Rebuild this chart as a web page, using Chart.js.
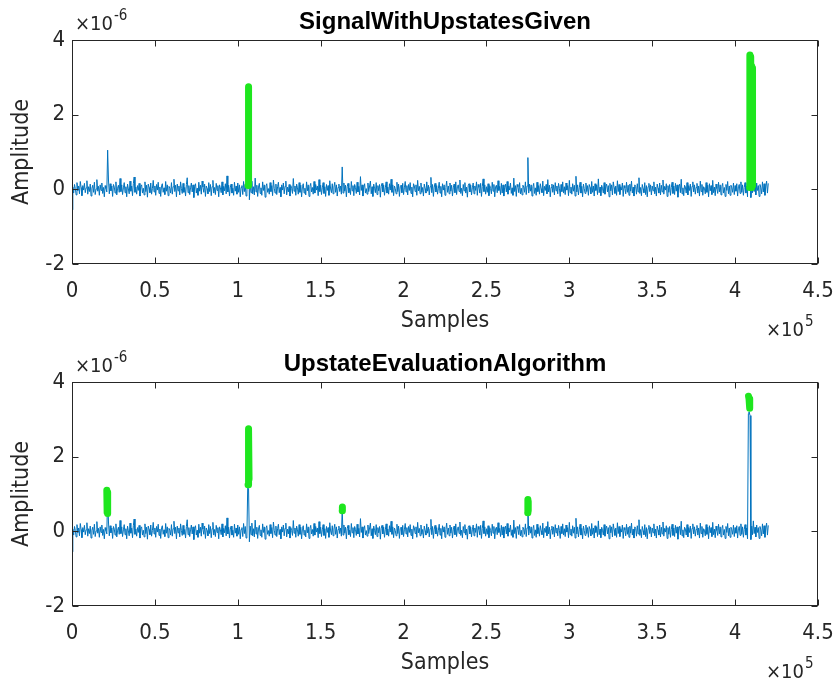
<!DOCTYPE html>
<html>
<head>
<meta charset="utf-8">
<script src="https://cdn.jsdelivr.net/npm/chart.js@4/dist/chart.umd.min.js"></script>
<style>
  html, body { margin: 0; padding: 0; background: #ffffff; }
  #wrap { position: relative; width: 840px; height: 683px; }
  .panel { position: absolute; left: 0; width: 840px; }
</style>
</head>
<body>
<div id="wrap">
  <div class="panel" style="top:0;height:342px"><canvas id="top" width="840" height="342"></canvas></div>
  <div class="panel" style="top:342px;height:341px"><canvas id="bottom" width="840" height="341"></canvas></div>
</div>
<script>
// ---- data (amplitudes in units of 1e-6, samples as sample index) ----
const SAMPLE_STEP = 500;

// recorded signal, one value every SAMPLE_STEP samples
const signal = [
  -0.55,0.06,-0.1,0.13,0.02,-0.15,0.18,-0.04,0.09,-0.12,0.21,0.05,-0.17,0.1,-0.02,0.16,-0.09,0.04,0.23,-0.13,
  0.07,-0.06,0.14,-0.18,0.03,0.11,-0.08,0.19,-0.14,0.01,0.26,-0.05,0.08,-0.16,0.12,-0.03,0.17,-0.11,0.05,-0.2,
  0.1,0.02,-0.07,1.05,0.25,-0.12,0.15,-0.04,0.09,-0.19,0.13,0.06,-0.1,0.2,-0.15,0.03,0.11,-0.08,0.29,-0.06,
  0.12,-0.14,0.04,0.18,-0.09,0.07,-0.2,0.14,0.01,-0.12,0.22,-0.05,0.09,-0.17,0.15,0.33,-0.08,0.06,-0.13,0.1,
  -0.03,0.16,-0.18,0.08,0.12,-0.1,0.03,-0.15,0.2,-0.06,0.11,-0.21,0.14,0.05,-0.09,0.17,-0.13,0.02,0.24,-0.07,
  0.09,-0.16,0.13,-0.02,0.19,-0.11,0.06,-0.19,0.1,0.15,-0.08,0.04,-0.14,0.21,-0.05,0.12,-0.17,0.08,0.03,-0.1,
  0.18,-0.13,0.07,0.27,-0.06,0.11,-0.2,0.14,-0.04,0.09,-0.15,0.2,0.02,-0.11,0.16,-0.08,0.05,-0.18,0.13,0.31,
  -0.09,0.1,-0.14,0.04,0.17,-0.07,0.12,-0.22,0.08,0.15,-0.1,0.03,-0.16,0.19,-0.05,0.11,-0.13,0.22,0.06,-0.08,
  0.14,-0.19,0.09,0.02,-0.12,0.18,-0.06,0.13,-0.17,0.07,0.24,-0.1,0.05,-0.14,0.16,-0.03,0.1,-0.2,0.12,0.04,
  -0.09,0.2,-0.15,0.08,-0.04,0.15,-0.12,0.36,-0.07,0.11,-0.18,0.06,0.14,-0.1,0.03,-0.16,0.19,-0.05,0.09,-0.13,
  0.17,-0.08,0.12,-0.2,0.05,0.1,-0.14,0.21,-0.06,0.13,-0.18,-0.1,1.2,1.15,-0.28,0.14,-0.09,0.22,-0.12,0.07,
  -0.15,0.3,-0.07,0.11,-0.19,0.06,0.16,-0.11,0.04,-0.16,0.2,-0.03,0.12,-0.21,0.09,0.15,-0.08,0.02,-0.13,0.18,
  -0.06,0.1,-0.17,0.25,0.03,-0.1,0.14,-0.14,0.07,0.19,-0.09,0.05,-0.2,0.12,-0.02,0.17,-0.12,0.08,0.22,-0.15,
  0.06,-0.07,0.13,-0.18,0.1,0.02,-0.11,0.29,-0.05,0.09,-0.16,0.14,0.04,-0.13,0.18,-0.08,0.11,-0.2,0.07,0.15,
  -0.1,0.03,-0.15,0.2,-0.04,0.12,-0.19,0.08,0.16,-0.07,0.05,-0.13,0.21,-0.1,0.13,-0.02,0.09,-0.17,0.26,-0.06,
  0.11,-0.14,0.04,0.18,-0.11,0.07,-0.19,0.13,-0.03,0.1,-0.16,0.23,0.01,-0.09,0.15,-0.12,0.06,0.19,-0.08,0.12,
  -0.18,0.05,0.14,-0.06,0.09,-0.13,0.6,-0.1,0.17,-0.05,0.11,-0.2,0.07,0.16,-0.09,0.03,-0.14,0.21,-0.04,0.1,
  -0.17,0.13,0.05,-0.11,0.19,-0.07,0.08,-0.15,0.34,-0.03,0.12,-0.18,0.06,0.15,-0.1,0.02,-0.13,0.17,-0.06,0.09,
  0.22,-0.12,0.07,-0.19,0.14,0.03,-0.09,0.18,-0.14,0.1,-0.04,0.13,-0.21,0.08,0.16,-0.07,0.11,-0.16,0.04,0.2,
  -0.1,0.06,-0.13,0.15,-0.02,0.27,-0.08,0.12,-0.17,0.09,0.02,-0.12,0.19,-0.06,0.14,-0.19,0.07,0.11,-0.09,0.16,
  -0.14,0.04,0.21,-0.07,0.1,-0.15,0.13,-0.03,0.18,-0.11,0.06,-0.2,0.15,0.09,-0.06,0.12,-0.16,0.24,-0.04,0.08,
  -0.12,0.17,-0.08,0.05,-0.18,0.14,0.02,-0.1,0.2,-0.05,0.11,-0.15,0.07,0.32,-0.09,0.13,-0.19,0.06,0.16,-0.07,
  0.1,-0.13,0.03,0.19,-0.1,0.08,-0.2,0.15,-0.02,0.12,-0.16,0.05,0.22,-0.08,0.09,-0.12,0.17,-0.05,0.11,-0.18,
  0.04,0.14,-0.09,0.2,-0.14,0.07,0.12,-0.06,0.25,-0.11,0.03,-0.17,0.13,-0.04,0.18,-0.1,0.06,-0.21,0.1,0.15,
  -0.07,0.11,-0.15,0.04,0.17,-0.12,0.09,-0.03,0.2,-0.16,0.13,0.05,-0.1,0.16,-0.19,0.08,0.28,-0.06,0.12,-0.13,
  0.07,-0.08,0.15,-0.17,0.1,0.02,-0.12,0.19,-0.05,0.13,-0.2,0.06,0.11,-0.09,0.23,-0.03,0.08,-0.14,0.16,-0.1,
  0.12,-0.18,0.05,0.14,-0.07,0.21,-0.13,0.09,-0.02,0.17,-0.11,0.04,-0.16,0.3,-0.06,0.1,-0.19,0.13,0.07,-0.09,
  0.18,-0.12,0.03,-0.15,0.11,0.06,-0.08,0.2,-0.14,0.09,0.85,-0.1,0.14,-0.05,0.12,-0.18,0.07,0.16,-0.11,0.04,
  -0.16,0.19,-0.06,0.1,-0.13,0.15,0.02,-0.09,0.22,-0.17,0.08,-0.03,0.13,-0.12,0.26,-0.07,0.11,-0.2,0.05,0.14,
  -0.08,0.12,-0.15,0.18,-0.04,0.09,-0.12,0.16,0.03,-0.19,0.13,-0.06,0.2,-0.1,0.07,-0.14,0.17,-0.02,0.1,-0.17,
  0.24,-0.09,0.06,-0.13,0.15,-0.05,0.11,-0.18,0.35,-0.07,0.12,-0.15,0.04,0.19,-0.1,0.08,-0.2,0.14,0.02,-0.11,
  0.17,-0.06,0.1,-0.16,0.13,0.05,-0.12,0.21,-0.08,0.09,-0.18,0.15,-0.03,0.12,-0.14,0.28,-0.09,0.06,-0.17,0.11,
  0.03,-0.1,0.18,-0.13,0.08,0.14,-0.07,0.1,-0.2,0.16,-0.04,0.12,-0.15,0.2,0.05,-0.11,0.09,-0.16,0.23,-0.06,
  0.13,-0.14,0.07,-0.02,0.17,-0.19,0.1,0.04,-0.12,0.19,-0.08,0.11,-0.16,0.14,-0.05,0.22,-0.1,0.06,-0.18,0.12,
  0.08,-0.13,0.15,-0.07,0.31,-0.11,0.05,-0.17,0.13,0.02,-0.09,0.18,-0.14,0.1,-0.2,0.07,0.16,-0.06,0.12,-0.15,
  0.09,-0.04,0.2,-0.12,0.06,-0.18,0.14,0.03,-0.1,0.17,-0.15,0.11,-0.07,0.25,-0.13,0.08,-0.02,0.15,-0.19,0.1,
  -0.08,0.13,-0.16,0.05,0.19,-0.11,0.09,-0.14,0.16,-0.05,0.12,-0.21,0.07,0.14,-0.09,0.27,-0.12,0.04,-0.17,0.11,
  0.06,-0.1,0.18,-0.15,0.1,-0.03,0.14,-0.19,0.08,0.2,-0.07,0.12,-0.13,0.05,0.16,-0.1,0.09,-0.18,0.22,-0.06,
  0.13,-0.16,0.07,0.03,-0.12,0.18,-0.08,0.11,-0.2,0.15,-0.04,0.1,-0.14,0.24,-0.09,0.06,-0.17,0.14,0.02,-0.11,
  0.19,-0.07,0.12,-0.15,0.08,0.16,-0.1,0.05,-0.19,0.13,-0.03,0.21,-0.12,0.09,-0.16,0.11,0.04,-0.08,0.17,-0.14,
  0.1,-0.05,0.15,-0.18,0.07,0.13,-0.11,0.2,-0.08,0.12,-0.16,0.05,0.18,-0.1,0.09,-0.2,3.15,3.2,3.1,-0.22,
  0.14,-0.09,0.28,-0.06,0.11,-0.15,0.17,-0.03,0.1,-0.19,0.13,0.04,-0.12,0.2,-0.07,0.15,-0.16,0.09,0.22,-0.1,
  0.16
];

// upstates marked by hand (top panel)
const givenUpA_x = [106200, 106300, 106400, 106500, 106600, 106700];
const givenUpA_y = [0.1, 2.7, 0.2, 2.75, 0.15, 2.4];
const givenUpB_x = [408700, 408900, 409100, 409400, 409700, 410000, 410300, 410500];
const givenUpB_y = [0.05, 3.6, 0.1, 3.55, 0.05, 3.3, 0.1, 3.25];

// upstates found by the evaluation algorithm (bottom panel)
const foundUpA_x = [21000, 21200, 21400, 21600];
const foundUpA_y = [1.1, 0.5, 1.05, 0.48];
const foundUpB_x = [106200, 106350, 106500, 106650, 106800];
const foundUpB_y = [1.25, 2.75, 1.3, 2.7, 1.4];
const foundUpC_x = [163000, 163100];
const foundUpC_y = [0.55, 0.65];
const foundUpD_x = [274900, 275000, 275100, 275200];
const foundUpD_y = [0.5, 0.85, 0.55, 0.8];
const foundUpE_x = [408100, 408400, 408700, 408900];
const foundUpE_y = [3.62, 3.55, 3.35, 3.3];

// axis ticks
const xTickValues = [0, 50000, 100000, 150000, 200000, 250000, 300000, 350000, 400000, 450000];
const xTickLabels = ['0', '0.5', '1', '1.5', '2', '2.5', '3', '3.5', '4', '4.5'];
const yTickValues = [-2, 0, 2, 4];
const yTickLabels = ['-2', '0', '2', '4'];

// ---- styling ----
const AXIS_COLOR = '#262626';
const SIGNAL_COLOR = '#0072BD';
const UPSTATE_COLOR = '#1ee61e';
const NARROW = '"Liberation Sans Narrow", "Arial Narrow", "DejaVu Sans Condensed", "Liberation Sans", Arial, sans-serif';
const WIDE = '"Liberation Sans", Arial, Helvetica, sans-serif';

function toPoints(xs, ys) {
  return xs.map((x, i) => ({ x: x, y: ys[i] }));
}
const signalPoints = signal.map((v, i) => ({ x: i * SAMPLE_STEP, y: v }));

function signalDataset() {
  return {
    data: signalPoints, borderColor: SIGNAL_COLOR, borderWidth: 1,
    pointRadius: 0, order: 2, tension: 0
  };
}
function upstateDataset(xs, ys) {
  return {
    data: toPoints(xs, ys), borderColor: UPSTATE_COLOR, borderWidth: 7,
    borderCapStyle: 'round', borderJoinStyle: 'round',
    pointRadius: 0, order: 1, tension: 0
  };
}

// frame, inward ticks and MATLAB-style annotations
const decorPlugin = {
  id: 'decor',
  afterDraw(chart, args, opts) {
    const { ctx, chartArea: a, scales } = chart;
    const sx = scales.x, sy = scales.y;
    ctx.save();
    ctx.strokeStyle = AXIS_COLOR;
    ctx.lineWidth = 1;
    const L = Math.round(a.left) + 0.5, R = Math.round(a.right) - 0.5;
    const T = Math.round(a.top) + 0.5, B = Math.round(a.bottom) - 0.5;
    ctx.strokeRect(L, T, R - L, B - T);
    const TL = 6;
    ctx.beginPath();
    xTickValues.forEach(v => {
      const px = Math.round(sx.getPixelForValue(v)) + 0.5;
      ctx.moveTo(px, B); ctx.lineTo(px, B - TL);
      ctx.moveTo(px, T); ctx.lineTo(px, T + TL);
    });
    yTickValues.forEach(v => {
      const py = Math.round(sy.getPixelForValue(v)) + 0.5;
      ctx.moveTo(L, py); ctx.lineTo(L + TL, py);
      ctx.moveTo(R, py); ctx.lineTo(R - TL, py);
    });
    ctx.stroke();

    const cx = (a.left + a.right) / 2;
    ctx.fillStyle = '#000000';
    ctx.textBaseline = 'middle';
    // title
    ctx.textAlign = 'center';
    ctx.font = 'bold 24px ' + WIDE;
    ctx.fillText(opts.title, cx, 22);
    // axis labels
    ctx.fillStyle = AXIS_COLOR;
    ctx.font = '23px ' + NARROW;
    ctx.fillText('Samples', cx, 321);
    ctx.save();
    ctx.translate(22, (a.top + a.bottom) / 2);
    ctx.rotate(-Math.PI / 2);
    ctx.fillText('Amplitude', 0, 0);
    ctx.restore();
    // exponent on y axis
    ctx.textAlign = 'left';
    ctx.font = '20px ' + NARROW;
    ctx.fillText('\u00d710', 75, 25);
    let w = ctx.measureText('\u00d710').width;
    ctx.font = '15px ' + NARROW;
    ctx.fillText('-6', 75 + w + 1, 16);
    // exponent on x axis
    ctx.font = '20px ' + NARROW;
    ctx.fillText('\u00d710', 766, 331);
    w = ctx.measureText('\u00d710').width;
    ctx.font = '15px ' + NARROW;
    ctx.fillText('5', 766 + w + 1, 322);
    ctx.restore();
  }
};

function makeChart(id, title, upstates, xAxisHeight) {
  return new Chart(document.getElementById(id), {
    type: 'line',
    data: { datasets: [signalDataset()].concat(upstates) },
    plugins: [decorPlugin],
    options: {
      responsive: false,
      animation: false,
      devicePixelRatio: 1,
      layout: { padding: { top: 40, right: 22, left: 0, bottom: 0 } },
      plugins: {
        legend: { display: false },
        tooltip: { enabled: false },
        decor: { title: title }
      },
      scales: {
        x: {
          type: 'linear', min: 0, max: 450000,
          afterBuildTicks: s => { s.ticks = xTickValues.map(v => ({ value: v })); },
          afterFit: s => { s.height = xAxisHeight; s.paddingLeft = 0; s.paddingRight = 0; },
          grid: { display: false, drawTicks: false },
          border: { display: false },
          ticks: {
            color: AXIS_COLOR, padding: 14, maxRotation: 0, autoSkip: false,
            font: { family: NARROW, size: 22 },
            callback: (v, i) => xTickLabels[i]
          }
        },
        y: {
          type: 'linear', min: -2, max: 4,
          afterBuildTicks: s => { s.ticks = yTickValues.map(v => ({ value: v })); },
          afterFit: s => { s.width = 72; s.paddingTop = 0; s.paddingBottom = 0; },
          grid: { display: false, drawTicks: false },
          border: { display: false },
          ticks: {
            color: AXIS_COLOR, padding: 7,
            font: { family: NARROW, size: 22 },
            callback: (v, i) => yTickLabels[i]
          }
        }
      }
    }
  });
}

makeChart('top', 'SignalWithUpstatesGiven', [
  upstateDataset(givenUpA_x, givenUpA_y),
  upstateDataset(givenUpB_x, givenUpB_y)
], 78);

makeChart('bottom', 'UpstateEvaluationAlgorithm', [
  upstateDataset(foundUpA_x, foundUpA_y),
  upstateDataset(foundUpB_x, foundUpB_y),
  upstateDataset(foundUpC_x, foundUpC_y),
  upstateDataset(foundUpD_x, foundUpD_y),
  upstateDataset(foundUpE_x, foundUpE_y)
], 77);
</script>
</body>
</html>
